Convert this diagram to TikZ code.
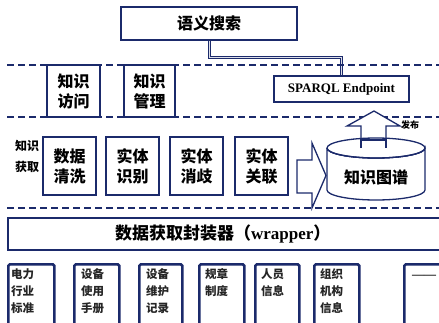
\documentclass[tikz,border=0pt]{standalone}
\usepackage{fontspec}
\setmainfont{Liberation Serif}
\newfontfamily\cjk{Noto Sans CJK SC}
\definecolor{navy}{HTML}{1B2A6B}
\tikzset{
  box/.style={draw=navy, line width=1.8pt, fill=white, inner sep=0pt, align=center,
    font=\cjk\bfseries\fontsize{16}{20}\selectfont},
  sbox/.style={draw=navy, line width=2.6pt, fill=white, inner sep=0pt, rounded corners=1.5pt},
  stxt/.style={anchor=north west, inner sep=0pt, align=left, text=black!85,
    font=\cjk\bfseries\fontsize{11.5}{17}\selectfont},
  dline/.style={draw=navy, line width=2.2pt, dash pattern=on 7pt off 4pt},
  arr/.style={draw=navy, line width=1.3pt, fill=white, line join=miter},
}
\begin{document}
\begin{tikzpicture}[x=1pt,y=-1pt]
\useasboundingbox (0,0) rectangle (439,322);
\clip (0,0) rectangle (439,322);
% top
\node[box, minimum width=176pt, minimum height=33pt] (sem) at (209,23.5) {语义搜索};
\node[box, minimum width=135pt, minimum height=26pt, line width=1.6pt,
  font=\rmfamily\bfseries\fontsize{13}{15}\selectfont] (sparql) at (341.5,89) {SPARQL Endpoint};
\draw[navy, line width=3pt] (sem.south) -- (209,57) -| (sparql.north);
\draw[white!85!navy, line width=0.8pt] (sem.south) -- (209,57) -| (sparql.north);
\coordinate (d1a) at (7,65); \coordinate (d1b) at (439,65);
\draw[dline] (d1a) -- (d1b);
\node[box, minimum width=53pt, minimum height=52pt] (acc) at (73.5,91) {知识\\访问};
\node[box, minimum width=51pt, minimum height=52pt] (mgt) at (149.5,91) {知识\\管理};
\coordinate (d2a) at (7,117); \coordinate (d2b) at (439,117);
\draw[dline] (d2a) -- (d2b);
% middle
\node[inner sep=0pt, align=center, font=\cjk\bfseries\fontsize{12}{21}\selectfont] (acq) at (27,156) {知识\\获取};
\node[box, minimum width=53pt, minimum height=58pt] (clean) at (69.5,166) {数据\\清洗};
\node[box, minimum width=53pt, minimum height=58pt] (ner) at (132.5,166) {实体\\识别};
\node[box, minimum width=53pt, minimum height=58pt] (dis) at (196.5,166) {实体\\消歧};
\node[box, minimum width=53pt, minimum height=58pt] (link) at (261.5,166) {实体\\关联};
% big right arrow
\draw[arr] (297,160) -- (312,160) -- (312,143) -- (326,175.5) -- (312,208) -- (312,193) -- (297,193) -- cycle;
% up arrow
\draw[arr] (361,150) -- (361,126) -- (347,126) -- (374,111) -- (400,126) -- (386,126) -- (386,150) -- cycle;
% cylinder
\draw[navy, line width=1.3pt, fill=white] (327,148) -- (327,190) arc[start angle=180, end angle=360, x radius=49pt, y radius=10pt] -- (425,148) arc[start angle=0, end angle=-180, x radius=49pt, y radius=10pt];
\draw[navy, line width=1.3pt, fill=white] (376,148) ellipse[x radius=49pt, y radius=10pt];
\draw[navy, line width=1.3pt, fill=white] (361,148) -- (361,140) -- (386,140) -- (386,148);
\draw[navy, line width=1.3pt] (327,148) arc[start angle=180, end angle=360, x radius=49pt, y radius=10pt];
\node[inner sep=0pt, font=\cjk\bfseries\fontsize{16}{20}\selectfont] (kg) at (376,177) {知识图谱};
\node[inner sep=0pt, font=\cjk\bfseries\fontsize{9}{10}\selectfont] (pub) at (410,125) {发布};
\coordinate (d3a) at (7,208); \coordinate (d3b) at (439,208);
\draw[dline] (d3a) -- (d3b);
% wrapper
\node[box, line width=1.6pt, minimum width=440pt, minimum height=32pt, anchor=west, font=\cjk\bfseries\fontsize{17}{20}\selectfont] (wrap) at (7,234) {\hspace*{-10pt}数据获取封装器（{\rmfamily wrapper}）\hspace*{0pt}};
% bottom boxes
\node[sbox, minimum width=46pt, minimum height=62pt, anchor=north west] (b1) at (7,263) {};
\node[stxt] (t1) at (b1.north west) [xshift=4pt, yshift=-5pt] {电力\\行业\\标准};
\node[sbox, minimum width=45pt, minimum height=62pt, anchor=north west] (b2) at (73,263) {};
\node[stxt] (t2) at (b2.north west) [xshift=8pt, yshift=-5pt] {设备\\使用\\手册};
\node[sbox, minimum width=43pt, minimum height=62pt, anchor=north west] (b3) at (138,263) {};
\node[stxt] (t3) at (b3.north west) [xshift=8pt, yshift=-5pt] {设备\\维护\\记录};
\node[sbox, minimum width=45pt, minimum height=62pt, anchor=north west] (b4) at (198,263) {};
\node[stxt] (t4) at (b4.north west) [xshift=7pt, yshift=-5pt] {规章\\制度};
\node[sbox, minimum width=44pt, minimum height=62pt, anchor=north west] (b5) at (254,263) {};
\node[stxt] (t5) at (b5.north west) [xshift=7pt, yshift=-5pt] {人员\\信息};
\node[sbox, minimum width=45pt, minimum height=62pt, anchor=north west] (b6) at (313,263) {};
\node[stxt] (t6) at (b6.north west) [xshift=7pt, yshift=-5pt] {组织\\机构\\信息};
\node[sbox, minimum width=45pt, minimum height=62pt, anchor=north west] (b7) at (403,263) {};
\node[inner sep=0pt, font=\bfseries\fontsize{12}{14}\selectfont] (t7) at (424,277) {\textemdash\textemdash};
\end{tikzpicture}
\end{document}
